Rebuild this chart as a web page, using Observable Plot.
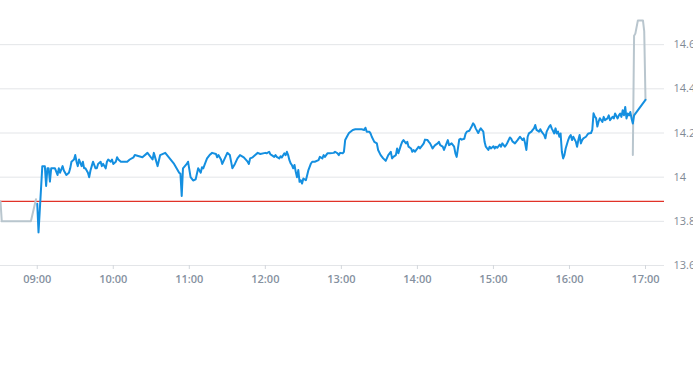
<!DOCTYPE html>
<html><head><meta charset="utf-8">
<script src="https://cdn.jsdelivr.net/npm/d3@7"></script>
<script src="https://cdn.jsdelivr.net/npm/@observablehq/plot@0.6"></script>
<style>html,body{margin:0;padding:0;background:#fff;} svg{display:block}</style>
</head><body><div id="chart"></div>
<script>
const sessionTime = ["09:00","09:01","09:04","09:06","09:07","09:08","09:09","09:10","09:11","09:13","09:14","09:16","09:17","09:18","09:20","09:21","09:22","09:23","09:25","09:26","09:27","09:29","09:30","09:31","09:32","09:33","09:35","09:36","09:37","09:38","09:40","09:41","09:42","09:43","09:44","09:46","09:47","09:48","09:50","09:51","09:52","09:54","09:55","09:56","09:58","09:59","10:00","10:02","10:03","10:04","10:06","10:08","10:11","10:13","10:16","10:17","10:23","10:27","10:31","10:32","10:35","10:37","10:41","10:48","10:52","10:53","10:54","10:55","10:58","10:59","11:01","11:03","11:05","11:07","11:09","11:10","11:11","11:13","11:14","11:16","11:18","11:21","11:22","11:23","11:25","11:26","11:28","11:30","11:32","11:34","11:36","11:38","11:40","11:43","11:46","11:47","11:48","11:50","11:52","11:54","11:56","12:00","12:01","12:03","12:04","12:05","12:07","12:08","12:09","12:11","12:12","12:13","12:15","12:16","12:17","12:18","12:19","12:20","12:21","12:22","12:23","12:24","12:25","12:26","12:27","12:28","12:29","12:30","12:32","12:33","12:34","12:36","12:37","12:39","12:42","12:43","12:45","12:46","12:47","12:49","12:51","12:54","12:55","12:57","12:58","12:59","13:01","13:02","13:03","13:05","13:06","13:09","13:11","13:16","13:18","13:19","13:20","13:22","13:23","13:24","13:26","13:28","13:29","13:31","13:33","13:35","13:37","13:39","13:40","13:41","13:43","13:44","13:45","13:47","13:48","13:49","13:51","13:52","13:53","13:55","13:56","13:57","13:58","14:00","14:01","14:02","14:04","14:05","14:06","14:08","14:09","14:10","14:12","14:13","14:14","14:16","14:17","14:18","14:20","14:21","14:22","14:23","14:24","14:25","14:27","14:29","14:30","14:31","14:32","14:33","14:34","14:35","14:37","14:38","14:39","14:41","14:42","14:43","14:44","14:45","14:46","14:48","14:49","14:50","14:52","14:53","14:54","14:56","14:57","14:58","15:00","15:01","15:02","15:03","15:05","15:06","15:07","15:09","15:10","15:11","15:13","15:14","15:15","15:17","15:19","15:20","15:21","15:23","15:24","15:25","15:26","15:27","15:28","15:30","15:31","15:32","15:33","15:34","15:36","15:37","15:38","15:40","15:41","15:42","15:44","15:45","15:46","15:48","15:49","15:50","15:51","15:52","15:53","15:54","15:55","15:56","15:57","15:59","16:00","16:01","16:02","16:03","16:05","16:06","16:07","16:08","16:09","16:10","16:11","16:13","16:14","16:15","16:17","16:18","16:19","16:20","16:21","16:22","16:23","16:24","16:26","16:27","16:28","16:30","16:31","16:32","16:34","16:35","16:36","16:38","16:39","16:40","16:41","16:42","16:43","16:44","16:45","16:46","16:47","16:48","16:49","16:50","16:51","17:00"];
const sessionPrice = [13.88,13.75,14.05,14.05,13.96,14.04,14.04,13.98,14.04,14.04,14.04,14.01,14.04,14.02,14.05,14.03,14.02,14.01,14.02,14.04,14.07,14.08,14.10,14.07,14.05,14.08,14.05,14.07,14.04,14.04,14.02,14.00,14.03,14.05,14.07,14.04,14.04,14.06,14.07,14.05,14.06,14.04,14.07,14.08,14.07,14.08,14.06,14.07,14.09,14.08,14.07,14.07,14.07,14.08,14.09,14.10,14.09,14.11,14.08,14.11,14.05,14.10,14.11,14.06,14.02,14.015,13.915,14.04,14.06,14.07,14.00,13.985,13.99,14.04,14.02,14.045,14.04,14.07,14.085,14.10,14.11,14.105,14.09,14.10,14.08,14.06,14.085,14.11,14.10,14.04,14.06,14.085,14.10,14.09,14.07,14.06,14.085,14.09,14.10,14.11,14.105,14.11,14.108,14.115,14.103,14.10,14.092,14.10,14.092,14.085,14.095,14.089,14.108,14.10,14.115,14.10,14.077,14.062,14.055,14.04,14.055,14.024,14.00,14.032,13.979,13.986,13.971,13.994,13.986,14.009,14.032,14.062,14.07,14.07,14.077,14.092,14.085,14.10,14.092,14.108,14.108,14.11,14.115,14.108,14.10,14.11,14.108,14.115,14.168,14.19,14.20,14.214,14.217,14.217,14.214,14.224,14.206,14.206,14.198,14.183,14.16,14.153,14.123,14.10,14.085,14.074,14.10,14.115,14.085,14.092,14.10,14.13,14.108,14.145,14.16,14.168,14.153,14.16,14.138,14.13,14.115,14.123,14.115,14.13,14.138,14.13,14.145,14.153,14.17,14.168,14.16,14.153,14.13,14.138,14.145,14.153,14.16,14.145,14.138,14.123,14.138,14.153,14.168,14.145,14.153,14.138,14.108,14.092,14.13,14.17,14.174,14.17,14.174,14.197,14.206,14.21,14.221,14.232,14.244,14.236,14.221,14.20,14.212,14.221,14.206,14.16,14.138,14.123,14.138,14.13,14.14,14.13,14.138,14.133,14.148,14.138,14.153,14.138,14.145,14.156,14.18,14.174,14.162,14.153,14.168,14.176,14.183,14.168,14.176,14.153,14.123,14.183,14.198,14.206,14.214,14.221,14.236,14.214,14.206,14.217,14.206,14.191,14.176,14.206,14.229,14.236,14.221,14.198,14.221,14.198,14.206,14.183,14.198,14.115,14.085,14.10,14.13,14.168,14.183,14.191,14.168,14.183,14.161,14.138,14.168,14.191,14.153,14.168,14.176,14.183,14.191,14.198,14.20,14.214,14.289,14.274,14.267,14.229,14.252,14.267,14.25,14.273,14.258,14.266,14.28,14.258,14.273,14.266,14.288,14.266,14.28,14.288,14.273,14.303,14.28,14.318,14.266,14.288,14.28,14.295,14.266,14.243,14.28,14.35];
const preTime = ["08:31","08:32","08:55","08:59"];
const prePrice = [13.89,13.80,13.80,13.90];
const postTime = ["16:50","16:51","16:52","16:54","16:58","16:59","17:00"];
const postPrice = [14.10,14.64,14.65,14.71,14.71,14.66,14.35];
const previousClose = [13.89];
const hourTicks = ["09:00","10:00","11:00","12:00","13:00","14:00","15:00","16:00","17:00"];
const priceTicks = [13.6,13.8,14,14.2,14.4,14.6];
const xDomain = ["08:31","17:15"];
const yDomain = [13.6,14.8];

const parse = d3.utcParse("%H:%M");
const toRows = (ts, ps) => ts.map((t, i) => ({time: parse(t), price: ps[i]}));
const session = toRows(sessionTime, sessionPrice);
const pre = toRows(preTime, prePrice);
const post = toRows(postTime, postPrice);

const chart = Plot.plot({
  width: 693,
  height: 365,
  marginTop: 0,
  marginLeft: 0,
  marginRight: 29,
  marginBottom: 100,
  x: {type: "utc", domain: xDomain.map(parse)},
  y: {domain: yDomain},
  style: {fontFamily: "'Open Sans', sans-serif", fontSize: "11px", background: "#fff", overflow: "visible"},
  marks: [
    Plot.gridY(priceTicks, {stroke: "#e3e5e8", strokeOpacity: 1}),
    Plot.axisY(priceTicks, {anchor: "right", tickSize: 0, tickPadding: 9, tickFormat: d => String(+d.toFixed(1)), fill: "#7f8a96", fontSize: 11, label: null}),
    Plot.axisX(hourTicks.map(parse), {tickSize: 4, tickPadding: 6, tickFormat: d3.utcFormat("%H:%M"), stroke: "#d3d7dc", fill: "#8591a0", fontWeight: 600, label: null}),
    Plot.ruleY(previousClose, {y: d => d, stroke: "rgb(225, 50, 40)", strokeOpacity: 1, strokeWidth: 1.3}),
    Plot.line(pre, {x: "time", y: "price", stroke: "#b9c6ce", strokeWidth: 2}),
    Plot.line(post, {x: "time", y: "price", stroke: "#b9c6ce", strokeWidth: 2}),
    Plot.line(session, {x: "time", y: "price", stroke: "#148fe0", strokeWidth: 2})
  ]
});
document.getElementById("chart").appendChild(chart);
</script>
</body></html>
